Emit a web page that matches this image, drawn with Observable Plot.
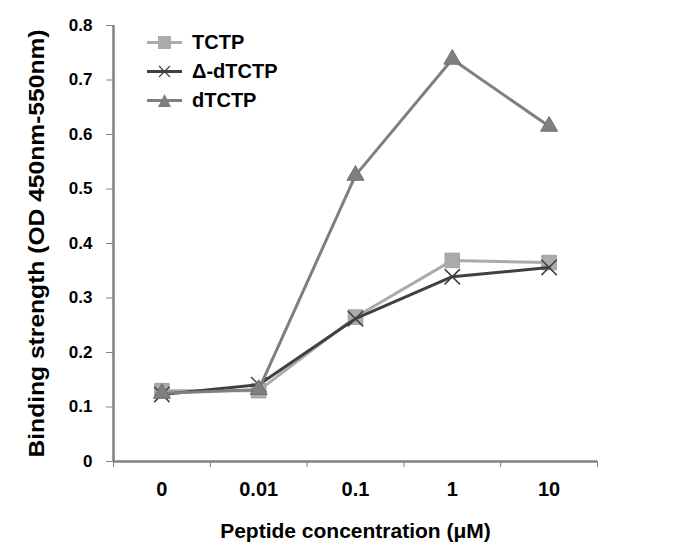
<!DOCTYPE html>
<html><head><meta charset="utf-8">
<script src="https://cdn.jsdelivr.net/npm/d3@7"></script>
<script src="https://cdn.jsdelivr.net/npm/@observablehq/plot@0.6"></script>
<style>
body{margin:0;background:#fff;font-family:"Liberation Sans",Arial,sans-serif}
#wrap{position:relative;width:676px;height:553px}
#legend{position:absolute;left:147px;top:28px;font-weight:bold;font-size:20px;color:#000}
.row{display:flex;align-items:center;height:29px}
.row svg{margin-right:9px}
g[aria-label="y-axis tick label"] text{font-size:17px;font-weight:bold}
g[aria-label="x-axis tick label"] text{font-size:20px;font-weight:bold}
g[aria-label="x-axis label"] text{font-size:21px;font-weight:bold}
g[aria-label="y-axis label"] text{font-size:22px;font-weight:bold}
</style></head><body><div id="wrap"><div id="legend"></div></div>
<script>
const categories = ["0", "0.01", "0.1", "1", "10"];
const seriesNames = ["TCTP", "Δ-dTCTP", "dTCTP"];
const tctpValues = [0.130, 0.130, 0.265, 0.369, 0.365];
const deltaDtctpValues = [0.123, 0.141, 0.262, 0.339, 0.356];
const dtctpValues = [0.125, 0.132, 0.525, 0.738, 0.615];
const yTicks = [0, 0.1, 0.2, 0.3, 0.4, 0.5, 0.6, 0.7, 0.8];

const seriesValues = [tctpValues, deltaDtctpValues, dtctpValues];
const colors = ["#ababab", "#404040", "#7f7f7f"];
const symbols = ["square", "times", "triangle"];

const rows = [];
seriesNames.forEach((s, k) => seriesValues[k].forEach((v, i) => rows.push({series: s, i, cat: categories[i], value: v})));

const boundaries = d3.range(categories.length + 1).map(d => d - 0.5);
const centers = d3.range(categories.length);

const marks = [
  Plot.axisY({ticks: yTicks, tickSize: 7, tickFormat: d3.format("~g"), stroke: "#808080", fill: "#000",
    tickPadding: 14,
    label: "Binding strength (OD 450nm-550nm)", labelAnchor: "center", labelArrow: false, labelOffset: 85}),
  Plot.axisX({ticks: boundaries, tickSize: 6, tickFormat: () => "", stroke: "#808080", label: null}),
  Plot.axisX({ticks: centers, tickSize: 0, tickPadding: 20, tickFormat: i => categories[i], fill: "#000",
    label: "Peptide concentration (μM)", labelAnchor: "center", labelArrow: false, labelOffset: 76}),
  Plot.ruleX([-0.5], {stroke: "#808080", strokeWidth: 2.5}),
  Plot.ruleY([0], {stroke: "#808080", strokeWidth: 2.5})
];
seriesNames.forEach((s, k) => {
  const d = rows.filter(r => r.series === s);
  marks.push(Plot.line(d, {x: "i", y: "value", stroke: colors[k], strokeWidth: 3}));
  if (symbols[k] === "times") {
    marks.push(Plot.dot(d, {x: "i", y: "value", symbol: "times", r: 7, stroke: colors[k], strokeWidth: 1.5}));
  } else if (symbols[k] === "square") {
    marks.push(Plot.dot(d, {x: "i", y: "value", symbol: "square", r: 8.2, fill: colors[k], stroke: "#a0a0a0", strokeWidth: 1}));
  } else {
    marks.push(Plot.dot(d, {x: "i", y: "value", symbol: "triangle", r: 6.3, fill: colors[k], stroke: "#707070", strokeWidth: 1}));
  }
});

const chart = Plot.plot({
  width: 676, height: 553,
  marginLeft: 113, marginRight: 79, marginTop: 25, marginBottom: 92,
  style: {fontFamily: "'Liberation Sans', Arial, sans-serif", background: "#fff", color: "#000"},
  x: {type: "linear", domain: [-0.5, categories.length - 0.5], axis: null},
  y: {domain: [0, 0.8], axis: null},
  marks
});
chart.querySelectorAll("g[aria-label='y-axis label'] text").forEach(t => {
  t.setAttribute("textLength", "428");
  t.setAttribute("lengthAdjust", "spacingAndGlyphs");
});
document.getElementById("wrap").prepend(chart);

const legend = document.getElementById("legend");
seriesNames.forEach((s, k) => {
  const row = document.createElement("div");
  row.className = "row";
  let marker;
  if (symbols[k] === "square") marker = `<rect x="11" y="1" width="13" height="13" fill="${colors[k]}"/>`;
  else if (symbols[k] === "times") marker = `<path d="M12,2L23,13M23,2L12,13" stroke="${colors[k]}" stroke-width="1.2"/>`;
  else marker = `<path d="M17.5,1L24,14L11,14Z" fill="${colors[k]}"/>`;
  row.innerHTML = `<svg width="36" height="15"><line x1="0" x2="35" y1="7.5" y2="7.5" stroke="${colors[k]}" stroke-width="3"/>${marker}</svg><span>${s}</span>`;
  legend.appendChild(row);
});
</script></body></html>
